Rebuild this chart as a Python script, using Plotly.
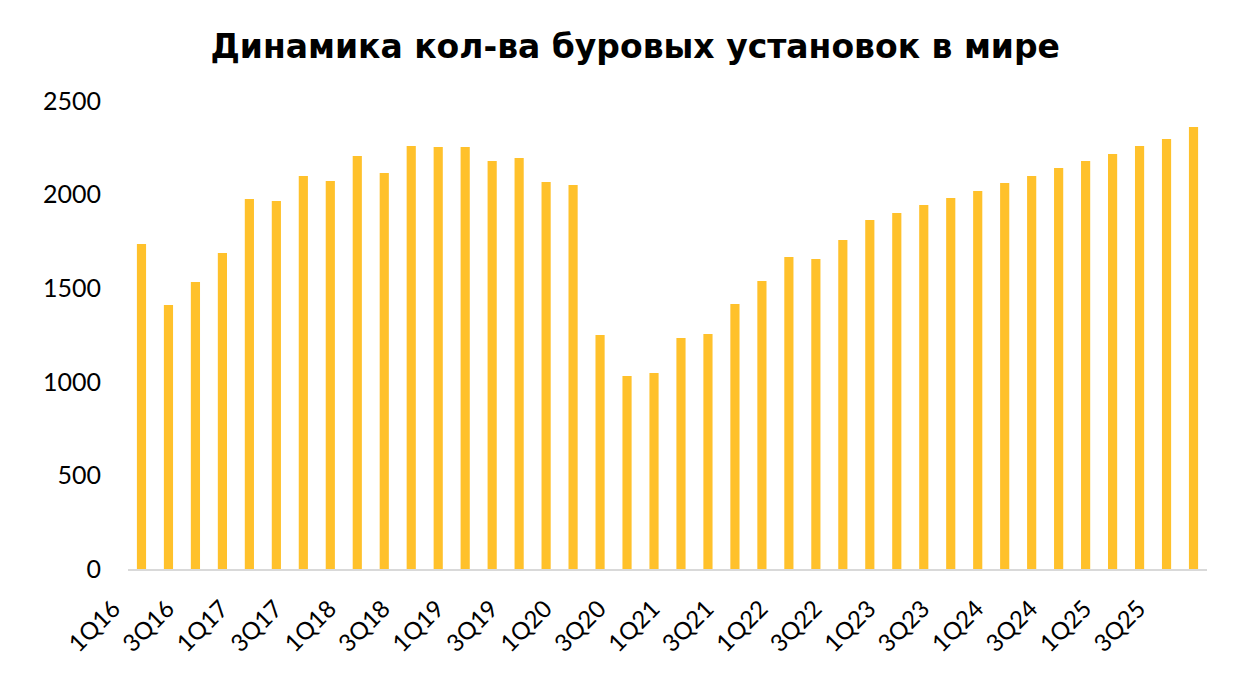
import plotly.graph_objects as go

quarters = [f"{q}Q{y}" for y in range(16, 26) for q in range(1, 5)]
rigs = [1736, 1410, 1533, 1688, 1977, 1966, 2099, 2073, 2206, 2115,
        2260, 2254, 2254, 2180, 2196, 2067, 2051, 1250, 1031, 1047,
        1234, 1255, 1416, 1538, 1667, 1656, 1757, 1864, 1902, 1944,
        1982, 2019, 2062, 2099, 2142, 2180, 2217, 2260, 2297, 2361]
tick_labels = quarters[::2]
y_ticks = [0, 500, 1000, 1500, 2000, 2500]

fig = go.Figure(go.Bar(x=quarters, y=rigs, marker_color="#FFC12B",
                       marker_line_width=0))

fig.update_layout(
    width=1242, height=680,
    paper_bgcolor="white", plot_bgcolor="white",
    margin=dict(l=120, r=43, t=93, b=119),
    bargap=0.66,
    showlegend=False,
    title=dict(text="<b>Динамика кол-ва буровых установок в мире</b>",
               x=0.505, xanchor="center", y=0.943, yanchor="middle",
               font=dict(family="DejaVu Sans", size=33, color="black")),
    font=dict(family="Lato", color="black"),
)
fig.update_xaxes(
    type="category", categoryorder="array", categoryarray=quarters,
    tickmode="array", tickvals=tick_labels, ticktext=tick_labels,
    tickangle=-45, tickfont=dict(size=24, color="black"),
    showline=True, linecolor="#D9D9D9", linewidth=2,
    showgrid=False, ticks="", ticklabelshift=-28, ticklabelstandoff=14,
    automargin=False,
)
fig.update_yaxes(
    range=[0, 2500], tickvals=y_ticks, ticktext=[str(v) for v in y_ticks],
    tickfont=dict(size=25, color="black"),
    showgrid=False, zeroline=False, showline=False, ticks="",
    ticklabelstandoff=26, automargin=False,
)

fig.write_html("out.html")
